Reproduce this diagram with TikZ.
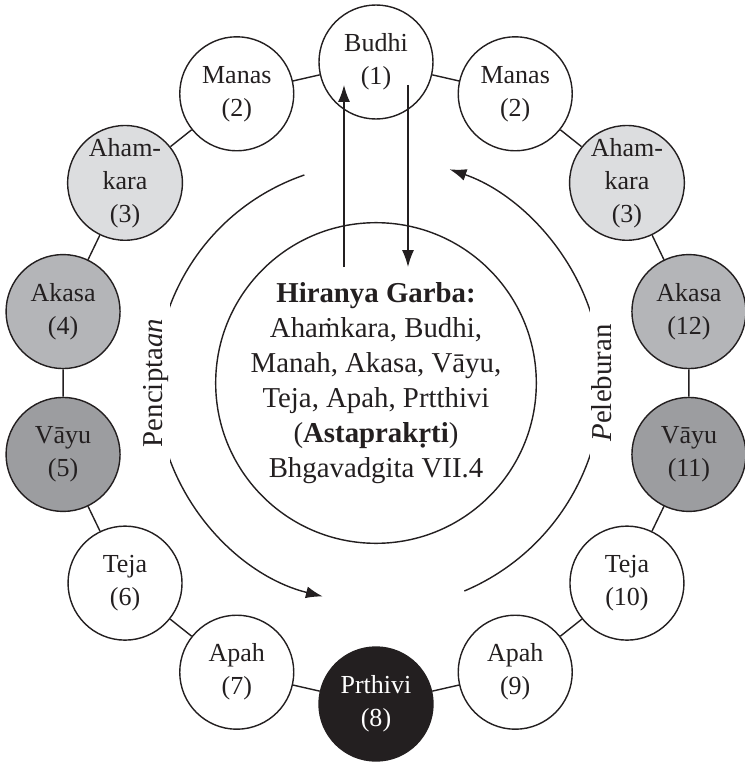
\documentclass[tikz,border=0pt]{standalone}
\usepackage{fontspec}
\setmainfont{Liberation Serif}
\usetikzlibrary{arrows.meta}

\definecolor{tinta}{HTML}{231F20}
\definecolor{abuMuda}{HTML}{DCDDDF}
\definecolor{abuSedang}{HTML}{B4B5B8}
\definecolor{abuTua}{HTML}{9C9DA0}

\begin{document}
\begin{tikzpicture}[>={Latex[length=12pt,width=8.5pt]}, line width=1pt, tinta,
    tahap/.style={circle, draw=tinta, fill=white, line width=1pt, minimum size=2.85cm,
        inner sep=0pt, align=center, text=tinta, font=\fontsize{18.5}{23.5}\selectfont},
    garis/.style={draw=tinta, line width=1pt},
    siklus/.style={fill=white, inner xsep=0.75cm, inner ysep=1pt, rotate=90,
        text=tinta, font=\fontsize{20.5}{24}\selectfont}]
    % 1. Batas gambar
    \useasboundingbox (-9.4, -9.5) rectangle (9.225, 9.575);

    % 2. Lingkaran tengah: Hiranya Garba
    \node[tahap, minimum size=7.85cm, font=\fontsize{20.5}{24.9}\selectfont] (garba) at (0, 0)
        {\textbf{Hiranya Garba:}\\ Ahaṁkara, Budhi,\\ Manah, Akasa, Vāyu,\\
         Teja, Apah, Prtthivi\\ (\textbf{Astaprakṛti})\\ Bhgavadgita VII.4};

    % 3. Tahap-tahap pada cincin luar
    \node[tahap] (budhi)    at (90:8.025)     {Budhi\\(1)};
    % sisi kiri
    \node[tahap] (manasL)   at (115.71:8.025) {Manas\\(2)};
    \node[tahap, fill=abuMuda]   (ahamL) at (141.43:8.025) {Aham-\\kara\\(3)};
    \node[tahap, fill=abuSedang] (akasaL) at (167.14:8.025) {Akasa\\(4)};
    \node[tahap, fill=abuTua]    (vayuL) at (192.86:8.025) {Vāyu\\(5)};
    \node[tahap] (tejaL)    at (218.57:8.025) {Teja\\(6)};
    \node[tahap] (apahL)    at (244.29:8.025) {Apah\\(7)};
    \node[tahap, fill=tinta, text=white] (prthivi) at (270:8.025) {Prthivi\\(8)};
    % sisi kanan
    \node[tahap] (apahR)    at (-64.29:8.025) {Apah\\(9)};
    \node[tahap] (tejaR)    at (-38.57:8.025) {Teja\\(10)};
    \node[tahap, fill=abuTua]    (vayuR) at (-12.86:8.025) {Vāyu\\(11)};
    \node[tahap, fill=abuSedang] (akasaR) at (12.86:8.025) {Akasa\\(12)};
    \node[tahap, fill=abuMuda]   (ahamR) at (38.57:8.025) {Aham-\\kara\\(3)};
    \node[tahap] (manasR)   at (64.29:8.025)  {Manas\\(2)};

    % 4. Garis penghubung cincin
    \draw[garis] (budhi) -- (manasL) -- (ahamL) -- (akasaL) -- (vayuL) -- (tejaL)
        -- (apahL) -- (prthivi) -- (apahR) -- (tejaR) -- (vayuR) -- (akasaR)
        -- (ahamR) -- (manasR) -- (budhi);

    % 5. Panah naik dan turun antara Hiranya Garba dan Budhi
    \coordinate (naikBawah) at (-0.8, 2.9);
    \coordinate (naikAtas)  at (-0.8, 7.45);
    \coordinate (turunAtas) at (0.8, 7.45);
    \coordinate (turunBawah) at (0.8, 2.9);
    \draw[garis, ->] (naikBawah) -- (naikAtas);
    \draw[garis, ->] (turunAtas) -- (turunBawah);

    % 6. Busur penciptaan (kiri) dan peleburan (kanan)
    \draw[garis, ->] (109:5.5) arc[start angle=109, end angle=256, radius=5.5];
    \draw[garis, ->] (-67:5.65) arc[start angle=-67, end angle=71, radius=5.65];
    \node[siklus] (cipta) at (180:5.5)  {Pencipta\textit{an}};
    \node[siklus] (lebur) at (0:5.65)   {\textit{P}eleburan};
\end{tikzpicture}
\end{document}
